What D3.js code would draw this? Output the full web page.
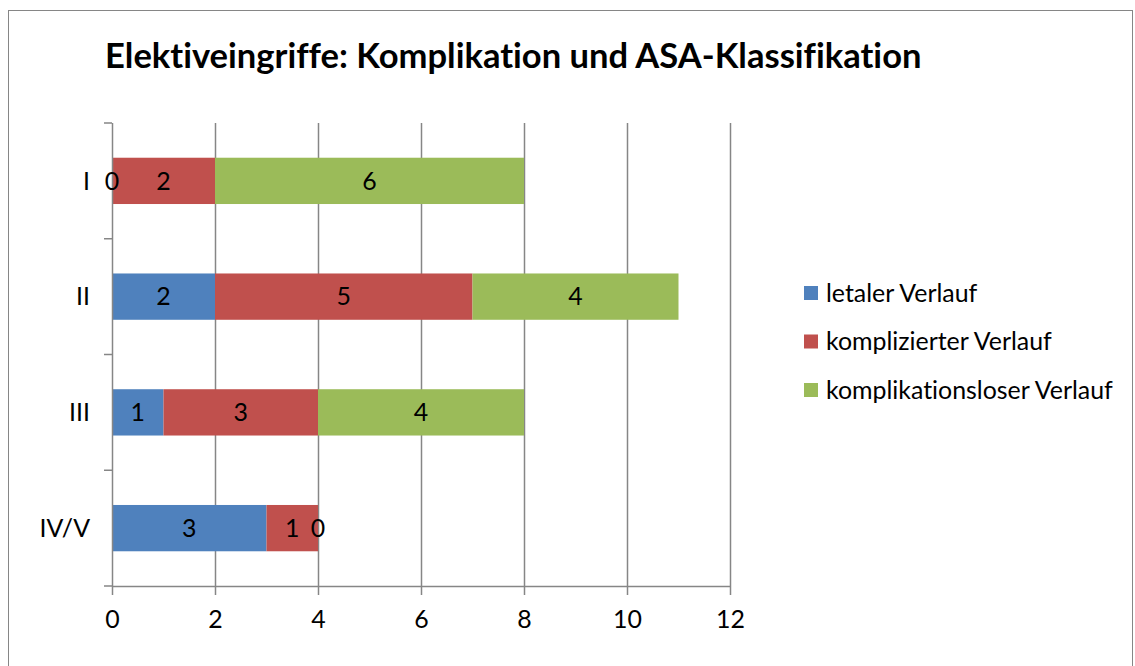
<!DOCTYPE html>
<html><head><meta charset="utf-8">
<script src="https://cdn.jsdelivr.net/npm/d3@7"></script>
<style>body{margin:0;background:#fff}svg{display:block}text{font-family:Lato,"Open Sans",sans-serif;fill:#000;font-variant-ligatures:none}</style>
</head><body><svg id="c" width="1135" height="666"></svg>
<script>
const categories = ["I","II","III","IV/V"];
const seriesNames = ["letaler Verlauf","komplizierter Verlauf","komplikationsloser Verlauf"];
const letal = [0,2,1,3];
const kompliziert = [2,5,3,1];
const komplikationslos = [6,4,4,0];
const xTicks = [0,2,4,6,8,10,12];
const colors = ["#4F81BD","#C0504D","#9BBB59"];
const title = "Elektiveingriffe: Komplikation und ASA-Klassifikation";

const svg = d3.select("#c");
svg.append("rect").attr("x",8.5).attr("y",10.5).attr("width",1124).attr("height",660)
  .attr("fill","#fff").attr("stroke","#868686").attr("stroke-width",1);

const t = svg.append("text").attr("x",105).attr("y",68).attr("font-weight","bold")
  .attr("font-size",30).text(title);
const tw = t.node().getComputedTextLength();
t.attr("font-size",30*817/tw);

const probe = svg.append("text").attr("font-size",20).text(seriesNames[2]);
const fs = 20*287/probe.node().getComputedTextLength();
probe.remove();

const x = d3.scaleLinear().domain([0,12]).range([112,730]);
const y = d3.scaleBand().domain(categories).range([123,586]).paddingInner(0.6).paddingOuter(0.3);

svg.append("g").selectAll("line").data(xTicks.slice(1)).join("line")
  .attr("x1",d=>x(d)+0.5).attr("x2",d=>x(d)+0.5).attr("y1",123).attr("y2",586)
  .attr("stroke","#868686").attr("stroke-width",1.5);

const series = [letal,kompliziert,komplikationslos];
const stack = d3.stack().keys([0,1,2]).value((d,k)=>series[k][d])(categories.map((c,i)=>i));

stack.forEach((layer,k)=>{
  svg.append("g").selectAll("rect").data(layer).join("rect")
    .attr("x",d=>x(d[0])).attr("width",d=>x(d[1])-x(d[0]))
    .attr("y",(d,i)=>y(categories[i])).attr("height",y.bandwidth())
    .attr("fill",colors[k]);
});

const xa = svg.append("g").attr("transform","translate(0,586)")
  .call(d3.axisBottom(x).tickValues(xTicks).tickSize(9).tickPadding(15));
xa.select(".domain").attr("d","M112,0.5H730").attr("stroke","#868686").attr("stroke-width",1.5);
xa.selectAll(".tick line").attr("stroke","#868686").attr("stroke-width",1.5);
xa.selectAll("text").attr("font-size",fs).attr("font-family","Lato,sans-serif").attr("fill","#000");

const bandStep = (586-123)/categories.length;
const yTickPos = d3.range(categories.length+1).map(i=>123+i*bandStep);
svg.append("line").attr("x1",112.5).attr("x2",112.5).attr("y1",123).attr("y2",586)
  .attr("stroke","#868686").attr("stroke-width",1.5);
svg.append("g").selectAll("line").data(yTickPos).join("line")
  .attr("x1",104).attr("x2",112).attr("y1",d=>d).attr("y2",d=>d)
  .attr("stroke","#868686").attr("stroke-width",1.5);
svg.append("g").selectAll("text").data(categories).join("text")
  .attr("x",90).attr("y",d=>y(d)+y.bandwidth()/2).attr("dy","0.35em")
  .attr("text-anchor","end").attr("font-size",fs).text(d=>d);

stack.forEach((layer,k)=>{
  svg.append("g").selectAll("text").data(layer).join("text")
    .attr("x",d=>(x(d[0])+x(d[1]))/2)
    .attr("y",(d,i)=>y(categories[i])+y.bandwidth()/2).attr("dy","0.35em")
    .attr("text-anchor","middle").attr("font-size",fs)
    .text((d,i)=>series[k][i]);
});

const lg = svg.append("g");
seriesNames.forEach((n,i)=>{
  const cy = 293 + i*48.5;
  lg.append("rect").attr("x",804).attr("y",cy-7).attr("width",14).attr("height",14).attr("fill",colors[i]);
  lg.append("text").attr("x",826).attr("y",cy).attr("dy","0.35em").attr("font-size",fs).text(n);
});
</script></body></html>
